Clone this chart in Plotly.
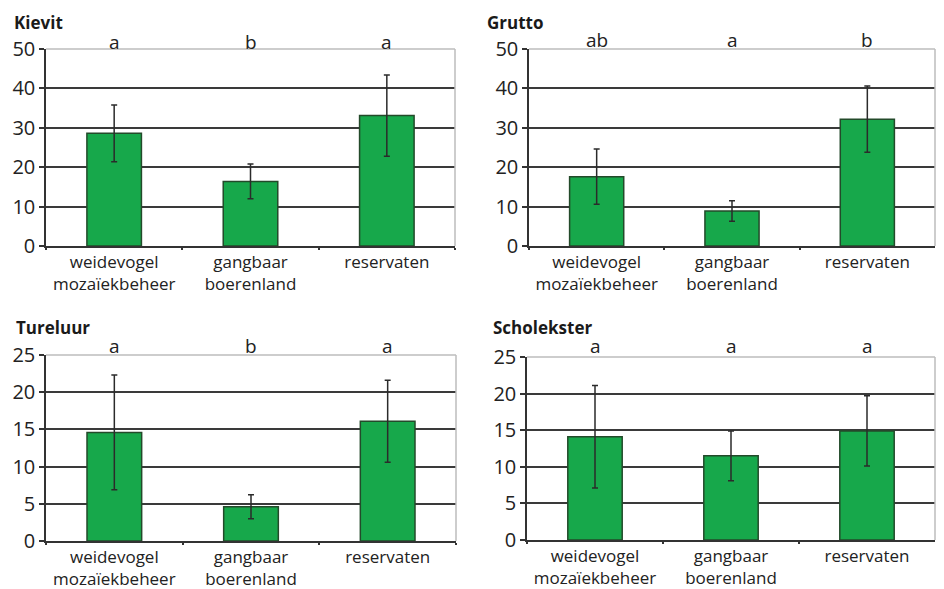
import plotly.graph_objects as go

categories = ["weidevogel<br>mozaïekbeheer", "gangbaar<br>boerenland", "reservaten"]
species = ["Kievit", "Grutto", "Tureluur", "Scholekster"]

kievit = [28.6, 16.4, 33.1]
kievit_err = [7.2, 4.4, 10.3]
kievit_letters = ["a", "b", "a"]

grutto = [17.6, 8.9, 32.2]
grutto_err = [7.0, 2.6, 8.4]
grutto_letters = ["ab", "a", "b"]

tureluur = [14.6, 4.6, 16.1]
tureluur_err = [7.7, 1.6, 5.5]
tureluur_letters = ["a", "b", "a"]

scholekster = [14.1, 11.5, 14.9]
scholekster_err = [7.0, 3.4, 4.8]
scholekster_letters = ["a", "a", "a"]

y_max = [50, 50, 25, 25]
y_step = [10, 10, 5, 5]

values = [kievit, grutto, tureluur, scholekster]
errors = [kievit_err, grutto_err, tureluur_err, scholekster_err]
letters = [kievit_letters, grutto_letters, tureluur_letters, scholekster_letters]

W, H = 944, 589
OFF = 8  # the page's body margin shifts the figure by this many pixels
# plot-area boxes in screen pixels: (left, right, top, bottom)
boxes = [(46, 455, 49, 246), (529, 935, 49, 246), (46, 456, 355, 541), (527, 935, 357, 540)]
title_pos = [(12, 22), (485, 22), (14, 327), (491, 327)]
letter_y = [42, 40, 346, 346]


def px(v):
    return (v - OFF) / W


def py(v):
    return 1 - (v - OFF) / H


FONT = "Open Sans"
fig = go.Figure()
layout = dict(template="none", width=W, height=H, margin=dict(l=0, r=0, t=0, b=0, pad=0),
              paper_bgcolor="white", plot_bgcolor="white", showlegend=False,
              bargap=0.6, annotations=[], shapes=[])

for i in range(4):
    n = "" if i == 0 else str(i + 1)
    xa, ya = "x" + n, "y" + n
    fig.add_trace(go.Bar(
        x=categories, y=values[i], xaxis=xa, yaxis=ya,
        marker=dict(color="#17a84b", line=dict(color="#234a2a", width=1.5)),
        error_y=dict(type="data", array=errors[i], color="#2b2b2b", thickness=1.5, width=3),
    ))
    l, r, t, b = boxes[i]
    layout["xaxis" + n] = dict(
        domain=[px(l), px(r)], anchor=ya, type="category", automargin=False, tickangle=0,
        tickson="boundaries", ticks="outside", ticklen=2, tickcolor="#333", tickwidth=1.5,
        showline=True, linecolor="#333", linewidth=1.5, showgrid=False, zeroline=False,
        tickfont=dict(family=FONT, size=17, color="#222"),
    )
    layout["yaxis" + n] = dict(
        domain=[py(b), py(t)], anchor=xa, range=[0, y_max[i]], dtick=y_step[i],
        automargin=False, ticks="outside", ticklen=5, tickcolor="#333", tickwidth=1.5,
        showline=True, linecolor="#333", linewidth=1.5,
        showgrid=True, gridcolor="#3a3a3a", gridwidth=1.5, zeroline=False,
        tickfont=dict(family=FONT, size=20, color="#222"),
    )
    # light grey frame on top and right edges
    layout["shapes"].append(dict(type="line", xref=xa + " domain", yref=ya + " domain",
                                 x0=0, x1=1, y0=1, y1=1, line=dict(color="#bdbdbd", width=1.5), layer="above"))
    layout["shapes"].append(dict(type="line", xref=xa + " domain", yref=ya + " domain",
                                 x0=1, x1=1, y0=0, y1=1, line=dict(color="#bdbdbd", width=1.5), layer="above"))
    tx, ty = title_pos[i]
    layout["annotations"].append(dict(text="<b>" + species[i] + "</b>", xref="paper", yref="paper",
                                      x=px(tx), y=py(ty), xanchor="left", yanchor="middle",
                                      showarrow=False, font=dict(family=FONT, size=17, color="#1a1a1a")))
    for c, s in zip(categories, letters[i]):
        layout["annotations"].append(dict(text=s, xref=xa, yref="paper", x=c, y=py(letter_y[i]),
                                          xanchor="center", yanchor="middle", showarrow=False,
                                          font=dict(family=FONT, size=19, color="#222")))

fig.update_layout(**layout)
fig.write_html("out.html")
